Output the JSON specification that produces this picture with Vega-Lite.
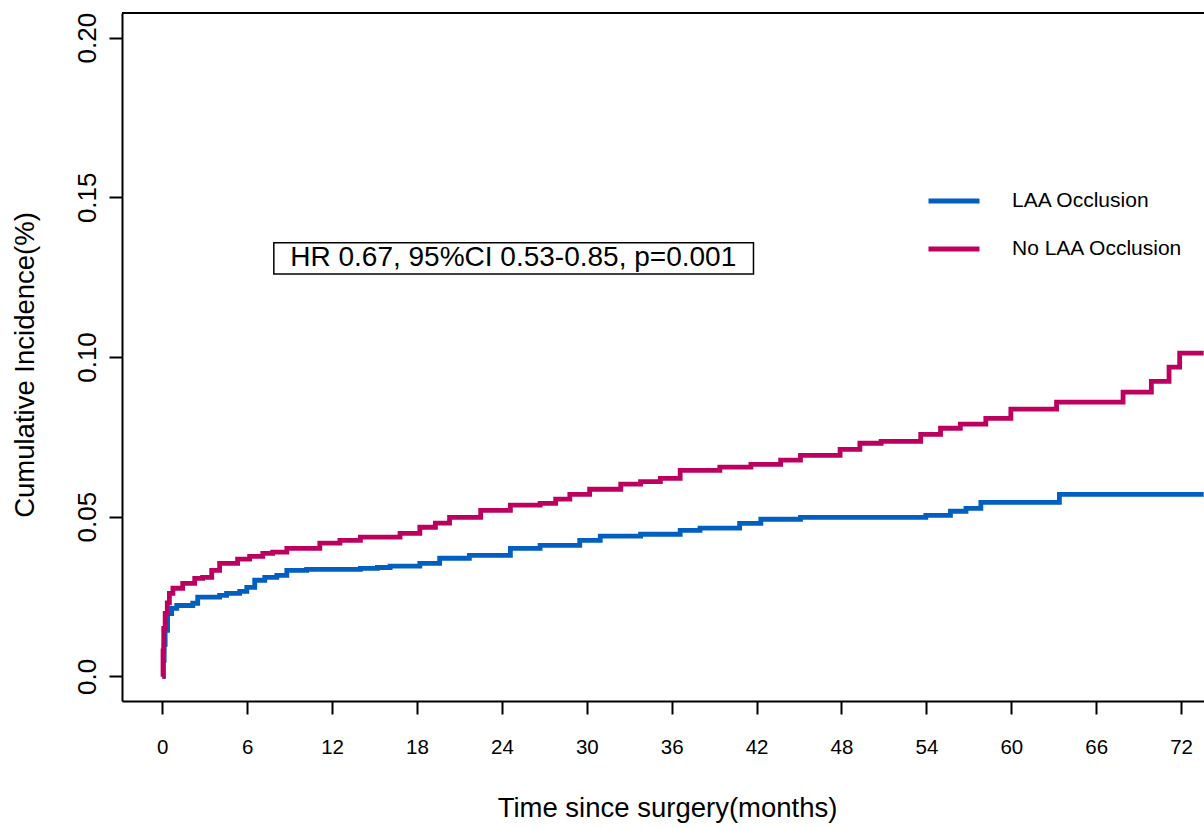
{
  "$schema": "https://vega.github.io/schema/vega-lite/v6.json",
  "autosize": {"type": "none"},
  "padding": {"left": 122, "top": 13, "right": 0, "bottom": 127},
  "width": 1082,
  "height": 688,
  "background": "white",
  "config": {
    "view": {"stroke": null},
    "font": "Liberation Sans",
    "axis": {
      "labelColor": "black", "titleColor": "black", "tickColor": "black", "domainColor": "black",
      "titleFontWeight": "normal", "grid": false, "labelFont": "Liberation Sans", "titleFont": "Liberation Sans",
      "domainWidth": 2, "tickWidth": 2, "tickSize": 13
    },
    "legend": {"labelFont": "Liberation Sans", "labelColor": "black"}
  },
  "datasets": {
    "curves": [
      {"group": "LAA Occlusion", "t": 0, "ci": 0},
      {"group": "LAA Occlusion", "t": 0.08, "ci": 0.005},
      {"group": "LAA Occlusion", "t": 0.13, "ci": 0.010},
      {"group": "LAA Occlusion", "t": 0.2, "ci": 0.0144},
      {"group": "LAA Occlusion", "t": 0.37, "ci": 0.0197},
      {"group": "LAA Occlusion", "t": 0.66, "ci": 0.0213},
      {"group": "LAA Occlusion", "t": 1.02, "ci": 0.0222},
      {"group": "LAA Occlusion", "t": 2.15, "ci": 0.0229},
      {"group": "LAA Occlusion", "t": 2.5, "ci": 0.0248},
      {"group": "LAA Occlusion", "t": 4.05, "ci": 0.0254},
      {"group": "LAA Occlusion", "t": 4.54, "ci": 0.026},
      {"group": "LAA Occlusion", "t": 5.47, "ci": 0.0266},
      {"group": "LAA Occlusion", "t": 5.97, "ci": 0.0279},
      {"group": "LAA Occlusion", "t": 6.53, "ci": 0.0301},
      {"group": "LAA Occlusion", "t": 7.24, "ci": 0.031},
      {"group": "LAA Occlusion", "t": 8.09, "ci": 0.0316},
      {"group": "LAA Occlusion", "t": 8.8, "ci": 0.0332},
      {"group": "LAA Occlusion", "t": 10.2, "ci": 0.0335},
      {"group": "LAA Occlusion", "t": 14.0, "ci": 0.0338},
      {"group": "LAA Occlusion", "t": 15.2, "ci": 0.0341},
      {"group": "LAA Occlusion", "t": 16.1, "ci": 0.0345},
      {"group": "LAA Occlusion", "t": 18.2, "ci": 0.0354},
      {"group": "LAA Occlusion", "t": 19.6, "ci": 0.037},
      {"group": "LAA Occlusion", "t": 21.7, "ci": 0.0379},
      {"group": "LAA Occlusion", "t": 24.6, "ci": 0.0401},
      {"group": "LAA Occlusion", "t": 26.7, "ci": 0.041},
      {"group": "LAA Occlusion", "t": 29.5, "ci": 0.0426},
      {"group": "LAA Occlusion", "t": 30.95, "ci": 0.0439},
      {"group": "LAA Occlusion", "t": 33.8, "ci": 0.0445},
      {"group": "LAA Occlusion", "t": 36.6, "ci": 0.0457},
      {"group": "LAA Occlusion", "t": 38.0, "ci": 0.0464},
      {"group": "LAA Occlusion", "t": 40.8, "ci": 0.0479},
      {"group": "LAA Occlusion", "t": 42.3, "ci": 0.0492},
      {"group": "LAA Occlusion", "t": 45.1, "ci": 0.0498},
      {"group": "LAA Occlusion", "t": 53.96, "ci": 0.0504},
      {"group": "LAA Occlusion", "t": 55.7, "ci": 0.0517},
      {"group": "LAA Occlusion", "t": 56.8, "ci": 0.0526},
      {"group": "LAA Occlusion", "t": 57.85, "ci": 0.0545},
      {"group": "LAA Occlusion", "t": 63.4, "ci": 0.057},
      {"group": "LAA Occlusion", "t": 73.6, "ci": 0.057},
      {"group": "No LAA Occlusion", "t": 0, "ci": 0},
      {"group": "No LAA Occlusion", "t": 0.05, "ci": 0.008},
      {"group": "No LAA Occlusion", "t": 0.1, "ci": 0.015},
      {"group": "No LAA Occlusion", "t": 0.2, "ci": 0.0197},
      {"group": "No LAA Occlusion", "t": 0.35, "ci": 0.023},
      {"group": "No LAA Occlusion", "t": 0.5, "ci": 0.026},
      {"group": "No LAA Occlusion", "t": 0.75, "ci": 0.0276},
      {"group": "No LAA Occlusion", "t": 1.44, "ci": 0.0291},
      {"group": "No LAA Occlusion", "t": 2.29, "ci": 0.0307},
      {"group": "No LAA Occlusion", "t": 2.85, "ci": 0.031},
      {"group": "No LAA Occlusion", "t": 3.49, "ci": 0.0332},
      {"group": "No LAA Occlusion", "t": 4.05, "ci": 0.0354},
      {"group": "No LAA Occlusion", "t": 5.32, "ci": 0.0367},
      {"group": "No LAA Occlusion", "t": 6.17, "ci": 0.0376},
      {"group": "No LAA Occlusion", "t": 7.1, "ci": 0.0385},
      {"group": "No LAA Occlusion", "t": 7.8, "ci": 0.0389},
      {"group": "No LAA Occlusion", "t": 8.8, "ci": 0.0401},
      {"group": "No LAA Occlusion", "t": 11.13, "ci": 0.0417},
      {"group": "No LAA Occlusion", "t": 12.55, "ci": 0.0426},
      {"group": "No LAA Occlusion", "t": 14.0, "ci": 0.0436},
      {"group": "No LAA Occlusion", "t": 16.8, "ci": 0.0448},
      {"group": "No LAA Occlusion", "t": 18.2, "ci": 0.0467},
      {"group": "No LAA Occlusion", "t": 19.3, "ci": 0.048},
      {"group": "No LAA Occlusion", "t": 20.3, "ci": 0.0498},
      {"group": "No LAA Occlusion", "t": 22.5, "ci": 0.052},
      {"group": "No LAA Occlusion", "t": 24.6, "ci": 0.0536},
      {"group": "No LAA Occlusion", "t": 26.7, "ci": 0.0542},
      {"group": "No LAA Occlusion", "t": 27.8, "ci": 0.0555},
      {"group": "No LAA Occlusion", "t": 28.8, "ci": 0.057},
      {"group": "No LAA Occlusion", "t": 30.2, "ci": 0.0586},
      {"group": "No LAA Occlusion", "t": 32.4, "ci": 0.0602},
      {"group": "No LAA Occlusion", "t": 33.8, "ci": 0.061},
      {"group": "No LAA Occlusion", "t": 35.2, "ci": 0.062},
      {"group": "No LAA Occlusion", "t": 36.6, "ci": 0.0645},
      {"group": "No LAA Occlusion", "t": 39.4, "ci": 0.0655},
      {"group": "No LAA Occlusion", "t": 41.6, "ci": 0.0664},
      {"group": "No LAA Occlusion", "t": 43.7, "ci": 0.0677},
      {"group": "No LAA Occlusion", "t": 45.1, "ci": 0.0692},
      {"group": "No LAA Occlusion", "t": 47.9, "ci": 0.0711},
      {"group": "No LAA Occlusion", "t": 49.3, "ci": 0.073},
      {"group": "No LAA Occlusion", "t": 50.8, "ci": 0.0736},
      {"group": "No LAA Occlusion", "t": 53.6, "ci": 0.0758},
      {"group": "No LAA Occlusion", "t": 55.0, "ci": 0.0777},
      {"group": "No LAA Occlusion", "t": 56.4, "ci": 0.079},
      {"group": "No LAA Occlusion", "t": 58.2, "ci": 0.0808},
      {"group": "No LAA Occlusion", "t": 59.97, "ci": 0.0837},
      {"group": "No LAA Occlusion", "t": 63.2, "ci": 0.0859},
      {"group": "No LAA Occlusion", "t": 67.9, "ci": 0.089},
      {"group": "No LAA Occlusion", "t": 69.9, "ci": 0.0924},
      {"group": "No LAA Occlusion", "t": 71.15, "ci": 0.0968},
      {"group": "No LAA Occlusion", "t": 71.9, "ci": 0.1012},
      {"group": "No LAA Occlusion", "t": 73.6, "ci": 0.1012}
    ],
    "note": [
      {"label": "HR 0.67, 95%CI 0.53-0.85, p=0.001"}
    ]
  },
  "layer": [
    {
      "data": {"name": "curves"},
      "mark": {"type": "line", "interpolate": "step-after", "strokeWidth": 4.8, "clip": true},
      "encoding": {
        "x": {
          "field": "t", "type": "quantitative",
          "scale": {"domain": [-2.85, 73.62], "nice": false, "zero": false},
          "axis": {
            "title": "Time since surgery(months)",
            "values": [0, 6, 12, 18, 24, 30, 36, 42, 48, 54, 60, 66, 72],
            "labelFontSize": 20.5, "labelPadding": 23, "labelBaseline": "top",
            "titleFontSize": 27.5, "titleX": 545, "titleY": 115, "titleBaseline": "alphabetic", "titleAnchor": "middle", "titleAlign": "center"
          }
        },
        "y": {
          "field": "ci", "type": "quantitative",
          "scale": {"domain": [-0.0077, 0.2077], "nice": false, "zero": false},
          "axis": {
            "title": "Cumulative Incidence(%)",
            "values": [0, 0.05, 0.1, 0.15, 0.2],
            "labelExpr": "datum.value == 0 ? '0.0' : format(datum.value, '.2f')",
            "labelFontSize": 26, "labelAngle": -90, "labelAlign": "center", "labelBaseline": "alphabetic", "labelPadding": 14,
            "titleFontSize": 27.5, "titleAngle": -90, "titleBaseline": "alphabetic", "titleAlign": "center", "titleX": -89, "titleY": 351.5
          }
        },
        "color": {
          "field": "group", "type": "nominal",
          "scale": {"domain": ["LAA Occlusion", "No LAA Occlusion"], "range": ["#005FBF", "#BC0060"]},
          "legend": {
            "title": null, "orient": "none", "legendX": 804, "legendY": 160, "direction": "vertical",
            "symbolType": "stroke", "symbolSize": 2601, "symbolStrokeWidth": 4.8,
            "labelFontSize": 21, "labelOffset": 30, "labelLimit": 400, "rowPadding": 10, "padding": 0
          }
        }
      }
    },
    {
      "data": {"name": "note"},
      "mark": {"type": "rule", "color": "black", "strokeWidth": 2},
      "encoding": {"y": {"datum": 0.2077}}
    },
    {
      "data": {"name": "note"},
      "mark": {"type": "rect", "fill": "white", "stroke": "black", "strokeWidth": 1.5},
      "encoding": {
        "x": {"datum": 7.88}, "x2": {"datum": 41.78},
        "y": {"datum": 0.13577}, "y2": {"datum": 0.12596}
      }
    },
    {
      "data": {"name": "note"},
      "mark": {"type": "text", "align": "center", "baseline": "alphabetic", "fontSize": 28, "font": "Liberation Sans", "color": "black"},
      "encoding": {
        "x": {"datum": 24.8}, "y": {"datum": 0.1285},
        "text": {"field": "label"}
      }
    }
  ]
}
